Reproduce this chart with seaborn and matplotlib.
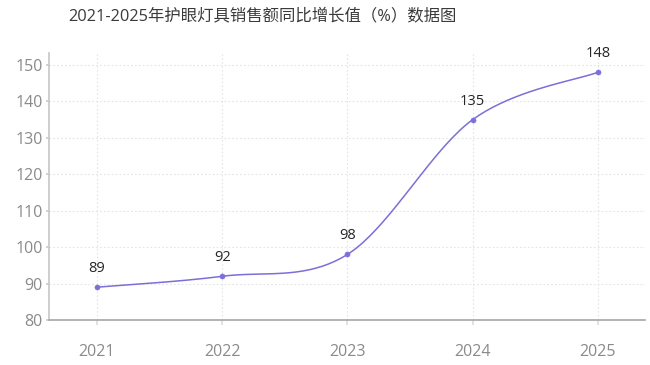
import numpy as np
import pandas as pd
import matplotlib
matplotlib.use("Agg")
import matplotlib.pyplot as plt
import seaborn as sns

years = [2021, 2022, 2023, 2024, 2025]
values = [89, 92, 98, 135, 148]
title = "2021-2025年护眼灯具销售额同比增长值（%）数据图"


def smooth_curve(x, y, n=40):
    # Catmull-Rom style smoothing between the data points
    x = np.asarray(x, float)
    y = np.asarray(y, float)
    xs, ys = [], []
    for i in range(len(x) - 1):
        p0 = (x[max(i - 1, 0)], y[max(i - 1, 0)])
        p1 = (x[i], y[i])
        p2 = (x[i + 1], y[i + 1])
        p3 = (x[min(i + 2, len(x) - 1)], y[min(i + 2, len(x) - 1)])
        c1 = (p1[0] + (p2[0] - p0[0]) / 6, p1[1] + (p2[1] - p0[1]) / 6)
        c2 = (p2[0] - (p3[0] - p1[0]) / 6, p2[1] - (p3[1] - p1[1]) / 6)
        t = np.linspace(0, 1, n)
        for k in range(2):
            pts = [p1[k], c1[k], c2[k], p2[k]]
            b = ((1 - t) ** 3 * pts[0] + 3 * (1 - t) ** 2 * t * pts[1]
                 + 3 * (1 - t) * t ** 2 * pts[2] + t ** 3 * pts[3])
            (xs if k == 0 else ys).append(b)
    return np.concatenate(xs), np.concatenate(ys)


sns.set_theme(style="white")
plt.rcParams['font.family'] = ['Open Sans', 'Noto Sans CJK SC', 'DejaVu Sans']

color = "#7b6fd8"
df = pd.DataFrame({"year": years, "value": values})
cx, cy = smooth_curve(years, values)
curve = pd.DataFrame({"x": cx, "y": cy})

fig = plt.figure(figsize=(6.5, 3.65), dpi=100)
ax = fig.add_axes([0.0754, 0.1233, 0.9166, 0.7315])

sns.lineplot(data=curve, x="x", y="y", ax=ax, color=color, linewidth=1.1,
             sort=False, estimator=None)
sns.scatterplot(data=df, x="year", y="value", ax=ax, color=color, s=14,
                edgecolor=color, zorder=3)

for x, v in zip(years, values):
    ax.annotate(str(v), (x, v), xytext=(0, 8), textcoords="offset points",
                ha="center", va="bottom", fontsize=10.5, color="#262626")

ax.set_xlim(2020.617, 2025.375)
ax.set_ylim(80, 153.3)
ax.set_xticks(years)
ax.set_yticks(range(80, 151, 10))
ax.set_xlabel("")
ax.set_ylabel("")
ax.grid(True, linestyle=(0, (1.5, 2)), color="#e4e4e4", linewidth=0.8)
ax.tick_params(axis="x", colors="#dddddd", labelcolor="#8a8a8a",
               labelsize=11.5, length=3.5, pad=14, direction="out")
ax.tick_params(axis="y", colors="#cccccc", labelcolor="#8a8a8a",
               labelsize=11.5, length=2.5, pad=2, direction="out")
ax.tick_params(axis="x", bottom=True)
ax.tick_params(axis="y", left=True)

for s in ["top", "right"]:
    ax.spines[s].set_visible(False)
ax.spines["left"].set_color("#c8c8c8")
ax.spines["bottom"].set_color("#aaaaaa")

fig.suptitle(title, x=0.403, y=0.978, fontsize=11.8, color="#3a3a3a")

fig.savefig("out.png", dpi=100)
